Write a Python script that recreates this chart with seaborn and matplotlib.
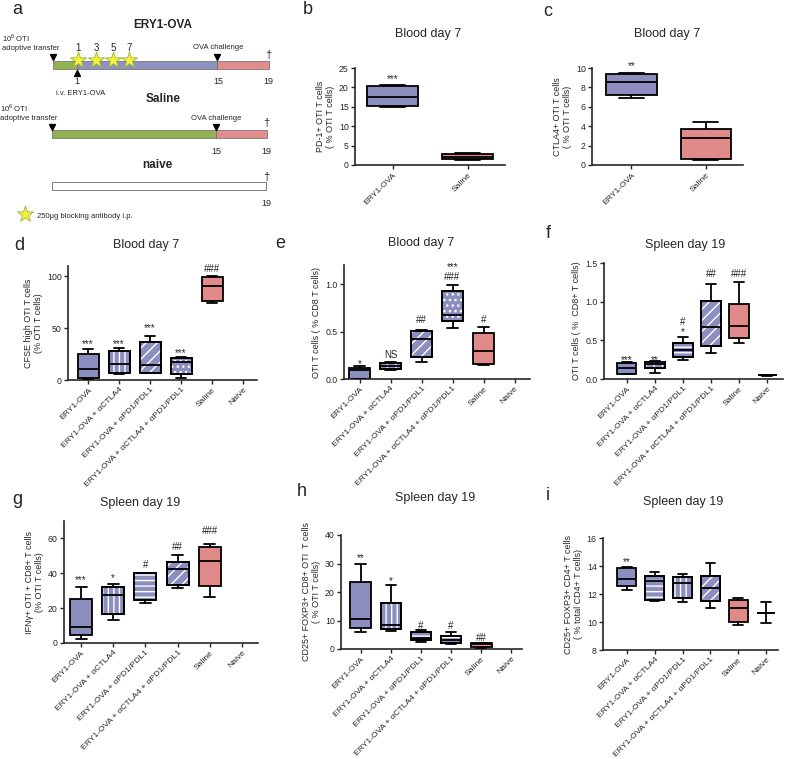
import numpy as np
import pandas as pd
import seaborn as sns
import matplotlib
matplotlib.use("Agg")
import matplotlib.pyplot as plt
from matplotlib.patches import PathPatch

W, H = 787, 759

GROUPS6 = ["ERY1-OVA", "ERY1-OVA + αCTLA4", "ERY1-OVA + αPD1/PDL1",
           "ERY1-OVA + αCTLA4 + αPD1/PDL1", "Saline", "Naive"]
GROUPS2 = ["ERY1-OVA", "Saline"]

# five-number summaries: [min, q1, median, q3, max]
b_vals = [[15.0, 15.2, 17.5, 20.3, 20.7], [1.4, 1.55, 2.15, 2.75, 3.0]]
c_vals = [[6.9, 7.25, 8.55, 9.4, 9.5], [0.5, 0.62, 2.75, 3.7, 4.4]]
d_vals = [[1.0, 1.6, 10.6, 25.5, 30.0], [5.5, 6.4, 15.4, 28.0, 30.5],
          [6.5, 7.0, 14.4, 37.0, 42.6], [1.5, 5.4, 17.8, 20.8, 22.4],
          [74.4, 76.3, 90.7, 99.5, 100.0], []]
e_vals = [[0.0, 0.005, 0.09, 0.112, 0.133], [0.1, 0.105, 0.14, 0.172, 0.18],
          [0.18, 0.23, 0.42, 0.505, 0.52], [0.537, 0.607, 0.677, 0.926, 0.99],
          [0.15, 0.158, 0.30, 0.488, 0.544], []]
f_vals = [[0.06, 0.065, 0.14, 0.21, 0.22], [0.08, 0.14, 0.2, 0.22, 0.23],
          [0.25, 0.28, 0.37, 0.46, 0.54], [0.33, 0.43, 0.67, 1.01, 1.23],
          [0.47, 0.53, 0.69, 0.97, 1.25], [0.045, 0.048, 0.05, 0.055, 0.058]]
g_vals = [[2.5, 4.8, 9.4, 25.5, 32.0], [13.0, 16.7, 27.4, 32.0, 33.7],
          [23.0, 24.5, 40.0, 40.2, 40.4], [31.8, 33.5, 42.3, 46.3, 50.7],
          [26.4, 32.5, 47.3, 55.1, 56.8], []]
h_vals = [[5.8, 7.5, 10.4, 23.5, 29.8], [6.4, 7.0, 8.3, 16.0, 22.4],
          [2.5, 3.0, 4.0, 5.8, 6.5], [1.8, 2.0, 3.2, 4.5, 5.8],
          [0.5, 0.8, 1.6, 2.0, 2.2], []]
i_vals = [[12.3, 12.6, 13.05, 13.85, 13.95], [11.5, 11.6, 12.9, 13.3, 13.6],
          [11.45, 11.75, 12.8, 13.2, 13.4], [11.0, 11.5, 12.4, 13.3, 14.2],
          [9.8, 10.0, 11.0, 11.55, 11.7], [9.9, 10.65, 10.65, 10.65, 11.4]]

# significance marks: group index, text, y (centre of mark)
b_sig = ([0], ["***"], [22.9])
c_sig = ([0], ["**"], [10.5])
d_sig = ([0, 1, 2, 3, 4], ["***", "***", "***", "***", "###"], [37.5, 37.5, 52.2, 28.8, 108])
e_sig = ([0, 1, 2, 3, 3, 4], ["*", "NS", "##", "###", "***", "#"],
         [0.186, 0.256, 0.625, 1.08, 1.21, 0.625])
f_sig = ([0, 1, 2, 2, 3, 4], ["***", "**", "*", "#", "##", "###"],
         [0.28, 0.28, 0.64, 0.75, 1.37, 1.37])
g_sig = ([0, 1, 2, 3, 4], ["***", "*", "#", "##", "###"], [37.5, 38.5, 45, 55.5, 64.7])
h_sig = ([0, 1, 2, 3, 4], ["**", "*", "#", "#", "##"], [33, 24.7, 8.1, 8.1, 4.0])
i_sig = ([0], ["**"], [14.5])

ERY_COL = "#8b8ebe"
SAL_COL = "#e08a8a"


def px_axes(fig, l, t, r, b):
    return fig.add_axes([l / W, 1 - b / H, (r - l) / W, (b - t) / H])


def box_panel(ax, order, vals, hatches, sig, ylim, yticks, xlim, ylabel, fmt="{:g}"):
    rows = [(g, v) for g, vs in zip(order, vals) for v in vs]
    df = pd.DataFrame(rows, columns=["group", "value"])
    pal = {g: (SAL_COL if g == "Saline" else ("white" if g == "Naive" else ERY_COL)) for g in order}
    sns.boxplot(data=df, x="group", y="value", hue="group", order=order, hue_order=order,
                palette=pal, whis=(0, 100), width=0.68, linewidth=1.3, linecolor="black",
                showfliers=False, legend=False, saturation=1, ax=ax)
    # white hatching on top of the filled boxes, outline redrawn above it
    for p in list(ax.patches):
        ext = p.get_path().get_extents()
        idx = int(round((ext.x0 + ext.x1) / 2))
        if 0 <= idx < len(hatches) and hatches[idx]:
            z = p.get_zorder()
            ax.add_patch(PathPatch(p.get_path(), transform=p.get_transform(), facecolor="none",
                                   edgecolor="white", lw=0, hatch=hatches[idx], zorder=z + 0.01))
            ax.add_patch(PathPatch(p.get_path(), transform=p.get_transform(), facecolor="none",
                                   edgecolor="black", lw=1.3, zorder=z + 0.02))
    for ln in ax.lines:
        ln.set_zorder(3)
    for p, t, y in zip(*sig):
        k = 0.58 if t.startswith("*") else 0.36
        fs = 7
        ax.annotate(t, (p, y), xytext=(0, -k * fs), textcoords="offset points", ha="center",
                    va="baseline", fontsize=fs, annotation_clip=False)
    ax.set_xlim(*xlim)
    ax.set_ylim(*ylim)
    ax.set_yticks(yticks)
    ax.set_yticklabels([fmt.format(v) for v in yticks])
    ax.set_xlabel("")
    ax.set_ylabel(ylabel, fontsize=6.5, linespacing=1.05, labelpad=3)
    ax.set_xticks(range(len(order)))
    ax.set_xticklabels(order, rotation=45, ha="right", rotation_mode="anchor", fontsize=6.1)
    ax.tick_params(axis="y", labelsize=6.3, length=3, width=1.0, pad=1.5)
    ax.tick_params(axis="x", length=3, width=1.0, pad=1.5)
    sns.despine(ax=ax)
    for s in ("left", "bottom"):
        ax.spines[s].set_linewidth(1.2)


sns.set_style("ticks")
plt.rcParams["font.family"] = ["Liberation Sans", "DejaVu Sans"]
plt.rcParams["mathtext.fontset"] = "custom"
plt.rcParams["mathtext.rm"] = "Liberation Sans"
plt.rcParams["hatch.linewidth"] = 1.0

fig = plt.figure(figsize=(W / 100, H / 100), dpi=100)

# ---- panel a: schedule schematic (pixel-like units) ----
GREEN, BLUE, RED = "#93b151", "#8c91bf", "#e18d8d"
ery_left = [53, 77, 217]
ery_right = [77, 217, 269]
sal_left = [52, 216]
sal_right = [216, 267]
star_x = [78, 96, 113, 129]
star_days = ["1", "3", "5", "7"]

ax = px_axes(fig, 0, 0, 270, 230)
ax.set_xlim(0, 270)
ax.set_ylim(230, 0)
ax.axis("off")
ax.barh([65] * 3, np.subtract(ery_right, ery_left), left=ery_left, height=8,
        color=[GREEN, BLUE, RED], edgecolor="#666666", lw=0.5)
ax.barh([134] * 2, np.subtract(sal_right, sal_left), left=sal_left, height=8,
        color=[GREEN, RED], edgecolor="#666666", lw=0.5)
ax.barh([186], [214], left=[52], height=8, color="white", edgecolor="#666666", lw=0.6)
ax.scatter(star_x, [60] * 4, marker="*", s=150, color="#f4f23c", edgecolor="#9ab33a", lw=0.6, zorder=5)
for x, d in zip(star_x, star_days):
    ax.text(x, 51, d, ha="center", va="baseline", fontsize=7)
ax.scatter([53, 217, 52, 216], [57, 57, 127, 127], marker="v", s=18, color="black", zorder=6)
ax.scatter([77], [73], marker="^", s=18, color="black", zorder=6)
small = dict(fontsize=5.5)
ax.text(2, 42, "10$^6$ OTI\nadoptive transfer", va="center", linespacing=1.2, **small)
ax.text(0, 112, "10$^6$ OTI\nadoptive transfer", va="center", linespacing=1.2, **small)
ax.text(218, 49, "OVA challenge", ha="center", va="baseline", **small)
ax.text(216, 120, "OVA challenge", ha="center", va="baseline", **small)
ax.text(77, 84, "1", ha="center", va="baseline", fontsize=6.5)
ax.text(56, 95, "i.v. ERY1-OVA", va="baseline", **small)
for x, y, s in [(218, 84, "15"), (268, 84, "19"), (216, 154, "15"), (266, 154, "19"), (266, 206, "19")]:
    ax.text(x, y, s, ha="center", va="baseline", fontsize=6.5)
for x, y in [(268, 58), (266, 126), (266, 180)]:
    ax.text(x, y, "†", ha="center", va="baseline", fontsize=8)
ax.text(163, 28, "ERY1-OVA", ha="center", va="baseline", fontsize=8.5, fontweight="bold")
ax.text(163, 102, "Saline", ha="center", va="baseline", fontsize=8.5, fontweight="bold")
ax.text(157, 168, "naive", ha="center", va="baseline", fontsize=8.5, fontweight="bold")
ax.scatter([25], [214], marker="*", s=150, color="#f4f23c", edgecolor="#9ab33a", lw=0.6)
ax.text(37, 216, "250μg blocking antibody i.p.", va="center", **small)

# ---- box panels ----
ax = px_axes(fig, 355, 68, 505, 165)
box_panel(ax, GROUPS2, b_vals, ["", ""], b_sig, (0, 25), [0, 5, 10, 15, 20, 25], (-0.5, 1.5),
          "PD-1+ OTI T cells\n( % OTI T cells)")
ax = px_axes(fig, 592, 68, 743, 165)
box_panel(ax, GROUPS2, c_vals, ["", ""], c_sig, (0, 10), [0, 2, 4, 6, 8, 10], (-0.53, 1.5),
          "CTLA4+ OTI T cells\n( % OTI T cells)")
ax = px_axes(fig, 68, 266, 257, 380)
box_panel(ax, GROUPS6, d_vals, ["", "|||", "///", "...", "", ""], d_sig, (0, 110), [0, 50, 100],
          (-0.65, 5.45), "CFSE high OTI T cells\n(% OTI T cells)")
ax = px_axes(fig, 344, 265, 530, 379)
box_panel(ax, GROUPS6, e_vals, ["", "++", "///", "...", "", ""], e_sig, (0, 1.2), [0.0, 0.5, 1.0],
          (-0.5, 5.5), "OTI T cells ( % CD8 T cells)", fmt="{:.1f}")
ax = px_axes(fig, 604, 263, 783, 379)
box_panel(ax, GROUPS6, f_vals, ["", "++", "---", "///", "", ""], f_sig, (0, 1.5),
          [0.0, 0.5, 1.0, 1.5], (-0.82, 5.57), "OTI T cells ( %  CD8+ T cells)", fmt="{:.1f}")
ax = px_axes(fig, 64, 521, 258, 643)
box_panel(ax, GROUPS6, g_vals, ["", "|||", "---", "///", "", ""], g_sig, (0, 70), [0, 20, 40, 60],
          (-0.53, 5.5), "IFNγ+ OTI + CD8+ T cells\n(% OTI T cells)")
ax = px_axes(fig, 341, 535, 522, 649)
box_panel(ax, GROUPS6, h_vals, ["", "|||", "---", "--", "", ""], h_sig, (0, 40),
          [0, 10, 20, 30, 40], (-0.65, 5.35), "CD25+ FOXP3+ CD8+ OTI  T cells\n( % OTI T cells)")
ax = px_axes(fig, 603, 538, 778, 650)
box_panel(ax, GROUPS6, i_vals, ["", "---", "|||", "///", "", ""], i_sig, (8, 16),
          [8, 10, 12, 14, 16], (-0.86, 5.43), "CD25+ FOXP3+ CD4+ T cells\n( % total CD4+ T cells)")

# titles and panel letters
titles = [(428, 34, "Blood day 7"), (667, 34, "Blood day 7"), (146, 245, "Blood day 7"),
          (421, 243, "Blood day 7"), (685, 245, "Spleen day 19"), (140, 503, "Spleen day 19"),
          (435, 498, "Spleen day 19"), (683, 502, "Spleen day 19")]
for x, y, s in titles:
    fig.text(x / W, 1 - y / H, s, ha="center", va="center", fontsize=9)
letters = [(17, 9, "a"), (308, 9, "b"), (548, 11, "c"), (19, 246, "d"), (280, 244, "e"),
           (548, 233, "f"), (17, 500, "g"), (302, 491, "h"), (548, 496, "i")]
for x, y, s in letters:
    fig.text(x / W, 1 - y / H, s, ha="center", va="center", fontsize=13)

fig.savefig("out.png", dpi=100)
